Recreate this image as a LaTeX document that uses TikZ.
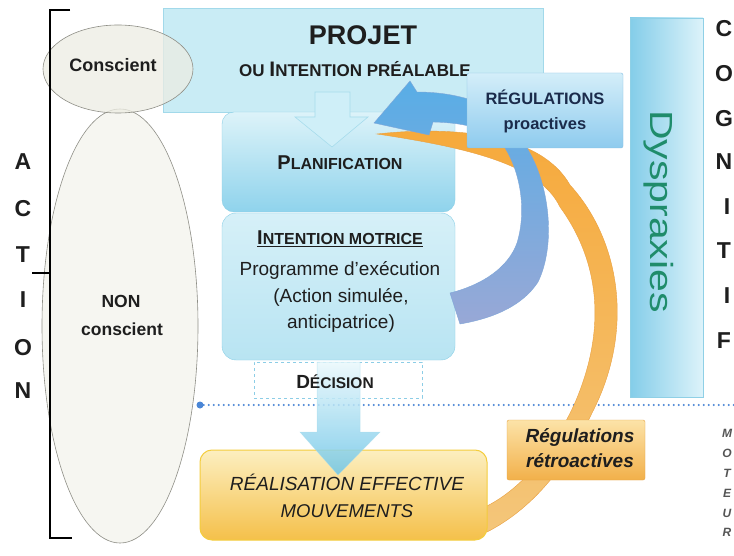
\documentclass[tikz,border=0pt]{standalone}
\usepackage{fontspec}
\usepackage{graphicx}
\setmainfont{Liberation Sans}
\usetikzlibrary{shapes.geometric}
\newcommand{\fsz}[1]{\fontsize{#1}{#1}\selectfont}
\definecolor{txt}{HTML}{1E1E1E}
\definecolor{projf}{HTML}{C9ECF5}
\definecolor{projb}{HTML}{A2D9EA}
\definecolor{planT}{HTML}{DDF3F9}
\definecolor{planBot}{HTML}{8FD3EC}
\definecolor{planB}{HTML}{8ACFE6}
\definecolor{intT}{HTML}{D6F0F8}
\definecolor{intBot}{HTML}{B8E4F2}
\definecolor{decB}{HTML}{8CCDE6}
\definecolor{realT}{HTML}{FCEFC0}
\definecolor{realBot}{HTML}{F5C04A}
\definecolor{realB}{HTML}{F4CD3E}
\definecolor{retT}{HTML}{FCE3A8}
\definecolor{retBot}{HTML}{F2B04A}
\definecolor{retB}{HTML}{E6A445}
\definecolor{proT}{HTML}{D4EEF9}
\definecolor{proBot}{HTML}{8ECBEE}
\definecolor{proB}{HTML}{86BFE3}
\definecolor{proTxt}{HTML}{1B2B4B}
\definecolor{dysL}{HTML}{84CDE9}
\definecolor{dysR}{HTML}{DDF3FA}
\definecolor{dysB}{HTML}{8FD0E6}
\definecolor{dysT}{HTML}{1F8C6B}
\definecolor{ellf}{HTML}{EDEDE3}
\definecolor{elltwo}{HTML}{F5F5EF}
\definecolor{ellb}{HTML}{8E8E86}
\definecolor{arrf}{HTML}{CFEFF8}
\definecolor{arrb}{HTML}{A7DCEC}
\definecolor{bigT}{HTML}{EAF8FC}
\definecolor{bigBot}{HTML}{6EC6E8}
\definecolor{orgT}{HTML}{F6A93B}
\definecolor{orgBot}{HTML}{F4C67A}
\definecolor{orgB}{HTML}{E9A040}
\definecolor{bluT}{HTML}{58ADE6}
\definecolor{bluBot}{HTML}{98A8D6}
\definecolor{bluB}{HTML}{7FA6D8}
\definecolor{dotc}{HTML}{4A86D6}
\definecolor{motc}{HTML}{555555}
\begin{document}
\begin{tikzpicture}[x=1pt,y=-1pt,
  lett/.style={font=\fsz{23}\bfseries, text=txt, inner sep=0, anchor=base},
  smalllett/.style={font=\fsz{12}\bfseries\itshape, text=motc, inner sep=0, anchor=base},
  boxtxt/.style={inner sep=0, anchor=base, text=txt}]
\useasboundingbox[fill=white] (0,0) rectangle (734,556);

% PROJET box
\node[draw=projb, fill=projf, minimum width=380pt, minimum height=104pt, inner sep=0] (projet) at (353,60) {};

% ellipses
\node[ellipse, draw=ellb, fill=elltwo, fill opacity=0.85, minimum width=156pt, minimum height=434pt, inner sep=0, line width=0.6pt] (noncons) at (120,326) {};
\node[ellipse, draw=ellb, fill=ellf, fill opacity=0.75, minimum width=150pt, minimum height=88pt, inner sep=0, line width=0.6pt] (cons) at (118,69) {};
\node[boxtxt, font=\fsz{18}\bfseries] (tcons) at (113,72) {Conscient};
\node[boxtxt, font=\fsz{17.5}\bfseries] (tnon) at (121,308) {NON};
\node[boxtxt, font=\fsz{17.5}\bfseries] (tnonc) at (122,335) {conscient};

% bracket
\draw[line width=1.6pt] (70,10) -- (50,10) -- (50,538) -- (72,538);
\draw[line width=1.6pt] (32,273) -- (50,273);

% ACTION letters
\node[lett] (act1) at (23,170) {A};
\node[lett] (act2) at (23,217) {C};
\node[lett] (act3) at (23,263) {T};
\node[lett] (act4) at (23,308) {I};
\node[lett] (act5) at (23,355) {O};
\node[lett] (act6) at (23,398) {N};

% COGNITIF letters
\node[lett] (cog1) at (724,37) {C};
\node[lett] (cog2) at (724,82) {O};
\node[lett] (cog3) at (724,127) {G};
\node[lett] (cog4) at (724,170) {N};
\node[lett] (cog5) at (727,215) {I};
\node[lett] (cog6) at (724,259) {T};
\node[lett] (cog7) at (727,304) {I};
\node[lett] (cog8) at (724,348) {F};

% MOTEUR letters
\node[smalllett] (mot1) at (727,437) {M};
\node[smalllett] (mot2) at (727,457) {O};
\node[smalllett] (mot3) at (727,477) {T};
\node[smalllett] (mot4) at (727,497) {E};
\node[smalllett] (mot5) at (727,517) {U};
\node[smalllett] (mot6) at (727,536) {R};

% PROJET texts
\node[boxtxt, font=\fsz{27}\bfseries] (tproj) at (363,45) {PROJET};
\node[boxtxt, font=\bfseries] (tintp) at (355,77) {{\fsz{17}OU }{\fsz{21}I}{\fsz{17}NTENTION PRÉALABLE}};

% Planification box
\node[draw=planB, top color=planT, bottom color=planBot, rounded corners=12pt, minimum width=233pt, minimum height=100pt, inner sep=0] (plan) at (338.5,162) {};
% arrow projet -> planification
\path[draw=arrb, fill=arrf, line width=0.6pt] (315,92) -- (350,92) -- (350,117) -- (368,117) -- (332,147) -- (295,117) -- (315,117) -- cycle;
\node[boxtxt, font=\bfseries] (tplan) at (340,170) {{\fsz{20}P}{\fsz{16}LANIFICATION}};

% Intention motrice box
\node[draw=planB, top color=intT, bottom color=intBot, rounded corners=14pt, minimum width=233pt, minimum height=147pt, inner sep=0] (intm) at (338.5,286.5) {};
\node[boxtxt, font=\bfseries] (tintm) at (340,245) {\underline{{\fsz{20}I}{\fsz{16}NTENTION MOTRICE}}};
\node[boxtxt, font=\fsz{19}] (tprog) at (340,276) {Programme d’exécution};
\node[boxtxt, font=\fsz{19}] (tact) at (341,302) {(Action simulée,};
\node[boxtxt, font=\fsz{19}] (tanti) at (341,328) {anticipatrice)};

% Decision box
\node[draw=decB, dashed, fill=white, minimum width=168pt, minimum height=36pt, inner sep=0] (dec) at (338,380) {};

% dotted line
\node[circle, fill=dotc, inner sep=0, minimum size=7pt] (dotL) at (200,405) {};
\coordinate (dotR) at (734,405);
\draw[dotc, line width=2.2pt, line cap=round, dash pattern=on 0pt off 5pt] (dotL) -- (dotR);

% orange band (retroactive)
\path[draw=orgB, line width=0.4pt, top color=orgT, bottom color=orgBot] (377,134) .. controls (450,126) and (540,132) .. (570,185) .. controls (620,240) and (635,330) .. (592,413) .. controls (565,470) and (530,510) .. (487,532) -- (487,506) .. controls (522,488) and (552,452) .. (574,405) .. controls (607,330) and (600,262) .. (560,207) .. controls (540,165) and (470,148) .. (377,134) -- cycle;

% Realisation box
\node[draw=realB, line width=1pt, top color=realT, bottom color=realBot, rounded corners=12pt, minimum width=287pt, minimum height=90pt, inner sep=0] (real) at (343.5,495) {};
% big arrow decision -> realisation
\path[draw=arrb, top color=bigT, bottom color=bigBot, fill opacity=0.85, draw opacity=0.6, line width=0.5pt] (317,362) -- (360,362) -- (360,432) -- (380,432) -- (338,475) -- (300,432) -- (317,432) -- cycle;
\node[boxtxt, font=\bfseries] (tdec) at (335,388) {{\fsz{19}D}{\fsz{15.5}ÉCISION}};
\node[boxtxt, font=\fsz{19}\itshape] (treal) at (347,490) {RÉALISATION EFFECTIVE};
\node[boxtxt, font=\fsz{18.5}\itshape] (tmouv) at (347,517) {MOUVEMENTS};

% blue band (proactive)
\path[draw=bluB, line width=0.4pt, top color=bluT, bottom color=bluBot] (527,148) .. controls (550,185) and (556,245) .. (538,282) .. controls (523,305) and (495,318) .. (460,324) -- (450,293) .. controls (482,285) and (508,268) .. (517,243) .. controls (527,210) and (520,172) .. (505,148) .. controls (492,130) and (470,123) .. (433,122) -- (429,135) -- (374,123) -- (410,81) -- (417,92) .. controls (470,92) and (515,112) .. (527,148) -- cycle;

% Regulations proactives box
\node[draw=proB, top color=proT, bottom color=proBot, rounded corners=2pt, minimum width=156pt, minimum height=75pt, inner sep=0] (pro) at (545,110.5) {};
\node[boxtxt, font=\fsz{16.5}\bfseries, text=proTxt] (tpro1) at (545,105) {RÉGULATIONS};
\node[boxtxt, font=\fsz{16.5}\bfseries, text=proTxt] (tpro2) at (545,130) {proactives};

% Regulations retroactives box
\node[draw=retB, top color=retT, bottom color=retBot, rounded corners=2pt, minimum width=138pt, minimum height=60pt, inner sep=0] (ret) at (576,450) {};
\node[boxtxt, font=\fsz{19}\bfseries\itshape] (tret1) at (580,442) {Régulations};
\node[boxtxt, font=\fsz{19}\bfseries\itshape] (tret2) at (580,467) {rétroactives};

% Dyspraxies box
\node[draw=dysB, left color=dysL, right color=dysR, minimum width=73pt, minimum height=379pt, inner sep=0] (dys) at (666.5,207.5) {};
\node[rotate=-90, anchor=base west, inner sep=0, text=dysT] (tdys) at (650,110) {\scalebox{1.28}[1]{\fsz{32}Dyspraxies}};
\end{tikzpicture}
\end{document}
